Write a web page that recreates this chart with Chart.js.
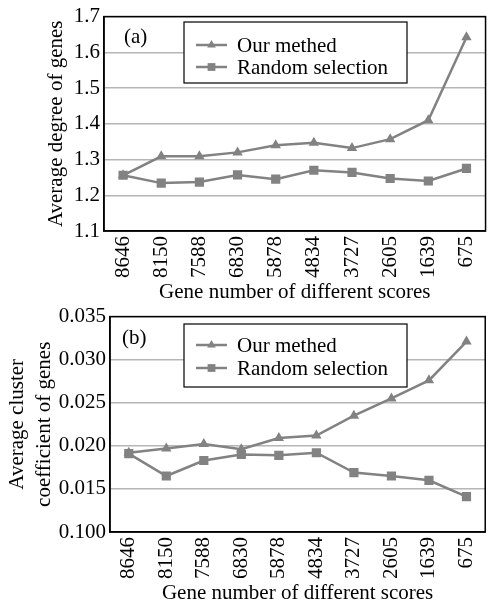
<!DOCTYPE html>
<html>
<head>
<meta charset="utf-8">
<script src="https://cdn.jsdelivr.net/npm/chart.js@4/dist/chart.umd.min.js"></script>
<style>
  body { margin: 0; background: #fff; font-family: "Liberation Serif", serif; }
  canvas { display: block; }
</style>
</head>
<body>
<canvas id="chartA" width="497" height="300"></canvas>
<canvas id="chartB" width="497" height="304"></canvas>
<script>
// Данные
const geneNumbers = ['8646', '8150', '7588', '6830', '5878', '4834', '3727', '2605', '1639', '675'];

const degreeOurs   = [1.256, 1.309, 1.309, 1.320, 1.340, 1.347, 1.332, 1.357, 1.410, 1.642];
const degreeRandom = [1.256, 1.234, 1.237, 1.257, 1.245, 1.270, 1.264, 1.247, 1.240, 1.275];

const clusterOurs   = [0.0192, 0.0197, 0.0202, 0.0196, 0.0209, 0.0212, 0.0235, 0.0255, 0.0276, 0.0321];
const clusterRandom = [0.0191, 0.0165, 0.0183, 0.0190, 0.0189, 0.0192, 0.0169, 0.0165, 0.0160, 0.0141];

const degreeTicks  = ['1.1', '1.2', '1.3', '1.4', '1.5', '1.6', '1.7'];
const clusterTicks = ['0.100', '0.015', '0.020', '0.025', '0.030', '0.035'];

const seriesNames = ['Our methed', 'Random selection'];

const FONT = '"Liberation Serif", "Times New Roman", serif';
const FONT_SIZE = 21;
const GREY = '#828282';

// Рамка области графика, легенда в рамке и подпись (a)/(b)
const framePlugin = {
    id: 'frameLegend',
    afterDraw(chart, args, opts) {
        const ctx = chart.ctx;
        const area = chart.chartArea;
        ctx.save();
        ctx.strokeStyle = '#000';
        ctx.lineWidth = 1.5;
        ctx.strokeRect(area.left, area.top, area.right - area.left, area.bottom - area.top);

        ctx.font = FONT_SIZE + 'px ' + FONT;
        ctx.fillStyle = '#000';
        ctx.textBaseline = 'middle';
        ctx.fillText(opts.label, opts.labelX, opts.labelY);

        // Легенда
        ctx.fillStyle = '#fff';
        ctx.fillRect(opts.boxX, opts.boxY, opts.boxW, opts.boxH);
        ctx.strokeStyle = '#000';
        ctx.lineWidth = 1.2;
        ctx.strokeRect(opts.boxX, opts.boxY, opts.boxW, opts.boxH);

        chart.data.datasets.forEach((ds, i) => {
            const y = opts.boxY + opts.rowY[i];
            const x0 = opts.boxX + 12;
            const x1 = opts.boxX + 43;
            ctx.strokeStyle = ds.borderColor;
            ctx.lineWidth = ds.borderWidth;
            ctx.beginPath();
            ctx.moveTo(x0, y);
            ctx.lineTo(x1, y);
            ctx.stroke();
            ctx.fillStyle = ds.pointBackgroundColor;
            Chart.helpers.drawPoint(ctx, {
                pointStyle: ds.pointStyle,
                radius: ds.pointRadius - 1,
                borderWidth: 0
            }, (x0 + x1) / 2, y);
            ctx.fillStyle = '#000';
            ctx.fillText(ds.label, opts.boxX + 53, y + 1);
        });
        ctx.restore();
    }
};

function makeChart(id, ours, random, ticks, yMin, yMax, yStep, yTitle, yWidth, xHeight, frame, titlePad) {
    const ctx = document.getElementById(id).getContext('2d');
    return new Chart(ctx, {
        type: 'line',
        data: {
            labels: geneNumbers,
            datasets: [{
                label: seriesNames[0],
                data: ours,
                borderColor: GREY,
                backgroundColor: GREY,
                pointBackgroundColor: GREY,
                pointBorderWidth: 0,
                borderWidth: 2.5,
                pointStyle: 'triangle',
                pointRadius: 6,
                tension: 0
            }, {
                label: seriesNames[1],
                data: random,
                borderColor: GREY,
                backgroundColor: GREY,
                pointBackgroundColor: GREY,
                pointBorderWidth: 0,
                borderWidth: 2.5,
                pointStyle: 'rect',
                pointRadius: 6.5,
                tension: 0
            }]
        },
        options: {
            responsive: false,
            animation: false,
            layout: { padding: { top: 16, right: 1, left: 0, bottom: 0 } },
            plugins: {
                legend: { display: false },
                tooltip: { enabled: false },
                frameLegend: frame
            },
            scales: {
                x: {
                    offset: true,
                    grid: { display: false, drawTicks: false },
                    border: { display: true, color: '#000', width: 1.5 },
                    ticks: {
                        minRotation: 90,
                        maxRotation: 90,
                        padding: 5,
                        color: '#000',
                        font: { family: FONT, size: FONT_SIZE }
                    },
                    title: {
                        display: true,
                        text: 'Gene number of different scores',
                        color: '#000',
                        font: { family: FONT, size: FONT_SIZE, lineHeight: 1 },
                        padding: { top: 0, bottom: titlePad }
                    },
                    afterFit(scale) { scale.height = xHeight; }
                },
                y: {
                    min: yMin,
                    max: yMax,
                    grid: { color: '#b5b5b5', lineWidth: 1.5, drawTicks: false },
                    border: { display: true, color: '#000', width: 1.5 },
                    ticks: {
                        stepSize: yStep,
                        padding: 4,
                        color: '#000',
                        font: { family: FONT, size: FONT_SIZE },
                        callback: (value, index) => ticks[index]
                    },
                    title: {
                        display: true,
                        text: yTitle.text,
                        color: '#000',
                        font: { family: FONT, size: FONT_SIZE, lineHeight: yTitle.lineHeight },
                        padding: { top: yTitle.pad, bottom: 0 }
                    },
                    afterFit(scale) { scale.width = yWidth; }
                }
            }
        },
        plugins: [framePlugin]
    });
}

function drawAll() {
    makeChart('chartA', degreeOurs, degreeRandom, degreeTicks, 1.1, 1.7, 0.1,
        { text: 'Average degree of genes', lineHeight: 1.2, pad: 44 },
        104, 69,
        { label: '(a)', labelX: 124, labelY: 37, boxX: 184, boxY: 22, boxW: 223, boxH: 61, rowY: [23, 45] },
        -3);

    makeChart('chartB', clusterOurs, clusterRandom, clusterTicks, 0.010, 0.035, 0.005,
        { text: ['Average cluster', 'coefficient of genes'], lineHeight: 1.3, pad: 4 },
        110, 72,
        { label: '(b)', labelX: 122, labelY: 38, boxX: 184, boxY: 24, boxW: 223, boxH: 63, rowY: [21, 44] },
        0);
}

// Ждём загрузки шрифта, иначе канвас рисует запасным
document.fonts.load(FONT_SIZE + 'px "Liberation Serif"').then(drawAll, drawAll);
</script>
</body>
</html>
